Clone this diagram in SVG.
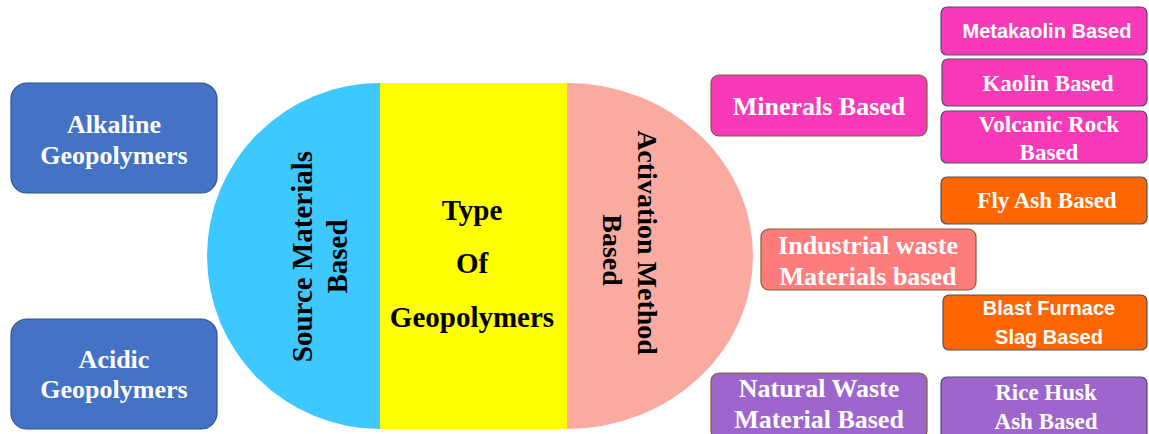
<svg xmlns="http://www.w3.org/2000/svg" width="1149" height="434" viewBox="0 0 1149 434">
<style>
.serif{font-family:"Liberation Serif","Times New Roman",serif;font-weight:bold;text-anchor:middle}
.sans{font-family:"Liberation Sans",Arial,sans-serif;font-weight:bold;text-anchor:middle}
.w{fill:#ffffff}
.k{fill:#000000}
.blue{fill:#4472C4;stroke:#2F528F;stroke-width:1.2}
.mag{fill:#F93AB8;stroke:#44546A;stroke-width:1.2}
.mag2{fill:#F93AB8;stroke:#7F6030;stroke-width:1.2}
.ind{fill:#FF7C7C;stroke:#7F6030;stroke-width:1.2}
.org{fill:#FF6600;stroke:#44546A;stroke-width:1.2}
.pur{fill:#9E66CC;stroke:#44546A;stroke-width:1.2}
.pur2{fill:#9E66CC;stroke:#7F6030;stroke-width:1.2}
</style>
<rect width="1149" height="434" fill="#ffffff"/>
<g id="source-materials">
<path d="M380,83 A173,173 0 0,0 380,429 Z" fill="#3DC8FF"/>
<text class="serif k" font-size="29" transform="translate(312,256.5) rotate(-90)">Source Materials</text>
<text class="serif k" font-size="29" transform="translate(347,256.5) rotate(-90)">Based</text>
</g>
<g id="type-of-geopolymers">
<rect x="380" y="83" width="187" height="346" fill="#FFFF00"/>
<text class="serif k" font-size="29" x="472" y="220">Type</text>
<text class="serif k" font-size="29" x="472" y="273">Of</text>
<text class="serif k" font-size="29" x="472" y="327">Geopolymers</text>
</g>
<g id="activation-method">
<path d="M567,83 A186,173 0 0,1 567,429 Z" fill="#FAAA9F"/>
<text class="serif k" font-size="28" transform="translate(638,242.5) rotate(90)">Activation Method</text>
<text class="serif k" font-size="28" transform="translate(603,250) rotate(90)">Based</text>
</g>
<g id="alkaline">
<rect class="blue" x="11" y="83" width="206" height="110" rx="16"/>
<text class="serif w" font-size="26" x="114" y="133">Alkaline</text>
<text class="serif w" font-size="26" x="114" y="164">Geopolymers</text>
</g>
<g id="acidic">
<rect class="blue" x="11" y="319" width="206" height="110" rx="16"/>
<text class="serif w" font-size="26" x="114" y="368">Acidic</text>
<text class="serif w" font-size="26" x="114" y="398">Geopolymers</text>
</g>
<g id="minerals">
<rect class="mag2" x="711" y="75" width="216" height="61" rx="8"/>
<text class="serif w" font-size="26" x="819" y="115">Minerals Based</text>
</g>
<g id="industrial">
<rect class="ind" x="761" y="229" width="215" height="61" rx="8"/>
<text class="serif w" font-size="26" x="868" y="254">Industrial waste</text>
<text class="serif w" font-size="26" x="868" y="285">Materials based</text>
</g>
<g id="natural">
<rect class="pur2" x="711" y="373" width="216" height="66" rx="8"/>
<text class="serif w" font-size="26" x="819" y="397">Natural Waste</text>
<text class="serif w" font-size="26" x="819" y="428">Material Based</text>
</g>
<g id="metakaolin">
<rect class="mag" x="941" y="7" width="206" height="48" rx="6"/>
<text class="sans w" font-size="20" x="1047" y="38">Metakaolin Based</text>
</g>
<g id="kaolin">
<rect class="mag" x="942" y="59" width="205" height="47" rx="6"/>
<text class="serif w" font-size="23" x="1048" y="91">Kaolin Based</text>
</g>
<g id="volcanic">
<rect class="mag" x="941" y="111" width="206" height="52" rx="6"/>
<text class="serif w" font-size="23" x="1049" y="132">Volcanic Rock</text>
<text class="serif w" font-size="23" x="1049" y="160">Based</text>
</g>
<g id="flyash">
<rect class="org" x="941" y="177" width="206" height="47" rx="6"/>
<text class="serif w" font-size="23" x="1047" y="208">Fly Ash Based</text>
</g>
<g id="blastfurnace">
<rect class="org" x="943" y="295" width="204" height="55" rx="6"/>
<text class="sans w" font-size="20" x="1049" y="315">Blast Furnace</text>
<text class="sans w" font-size="20" x="1049" y="344">Slag Based</text>
</g>
<g id="ricehusk">
<rect class="pur" x="941" y="377" width="206" height="62" rx="6"/>
<text class="serif w" font-size="23" x="1046" y="400">Rice Husk</text>
<text class="serif w" font-size="23" x="1046" y="429">Ash Based</text>
</g>
<g id="connectors"></g>
</svg>
